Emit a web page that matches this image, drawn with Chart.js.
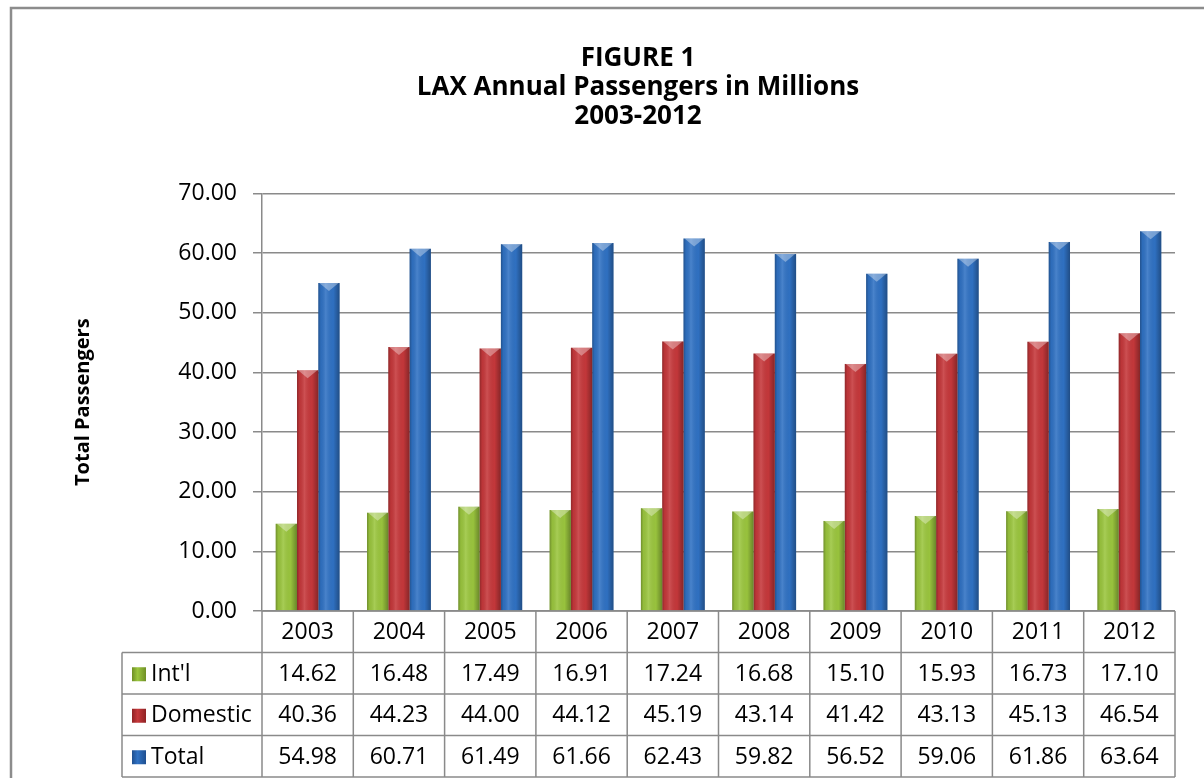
<!DOCTYPE html>
<html>
<head>
<meta charset="utf-8">
<title>LAX Annual Passengers</title>
<script src="https://cdn.jsdelivr.net/npm/chart.js@4.4.1/dist/chart.umd.min.js"></script>
<style>
  html, body { margin: 0; padding: 0; background: #fff; }
  #wrap { width: 1204px; height: 778px; position: relative; }
</style>
</head>
<body>
<div id="wrap"><canvas id="barChart"></canvas></div>
<script>
"use strict";

// Värden (miljoner passagerare)
const years = ["2003", "2004", "2005", "2006", "2007", "2008", "2009", "2010", "2011", "2012"];
const intl = [14.62, 16.48, 17.49, 16.91, 17.24, 16.68, 15.10, 15.93, 16.73, 17.10];
const domestic = [40.36, 44.23, 44.00, 44.12, 45.19, 43.14, 41.42, 43.13, 45.13, 46.54];
const total = [54.98, 60.71, 61.49, 61.66, 62.43, 59.82, 56.52, 59.06, 61.86, 63.64];
const seriesNames = ["Int'l", "Domestic", "Total"];
const yMax = 70;
const yStep = 10;

const FONT = "'Open Sans', 'Liberation Sans', sans-serif";
const GRID = "#8a8a8a";
const colors = ["#9bc63e", "#c6383b", "#3072c4"];
const edgeColors = ["#6f8f25", "#8f2224", "#1f4f8f"];

Chart.defaults.color = "#000";
Chart.defaults.font.family = FONT;

/**
 * Ritar den yttre ramen runt diagrammet.
 */
const framePlugin = {
  id: "frame",
  beforeDraw(chart) {
    const ctx = chart.ctx;
    ctx.save();
    ctx.strokeStyle = "#8c8c8c";
    ctx.lineWidth = 2.5;
    ctx.strokeRect(11, 8, chart.width + 40, chart.height + 40);
    ctx.restore();
  }
};

/**
 * Ger staplarna ett cylinderliknande utseende.
 */
const shadePlugin = {
  id: "shade",
  afterDatasetsDraw(chart) {
    const ctx = chart.ctx;
    ctx.save();
    chart.data.datasets.forEach((ds, di) => {
      chart.getDatasetMeta(di).data.forEach(bar => {
        const { x, y, base, width } = bar.getProps(["x", "y", "base", "width"], true);
        const l = x - width / 2;
        const g = ctx.createLinearGradient(l, 0, l + width, 0);
        g.addColorStop(0, "rgba(0,0,0,0.28)");
        g.addColorStop(0.12, "rgba(0,0,0,0.05)");
        g.addColorStop(0.35, "rgba(255,255,255,0.12)");
        g.addColorStop(0.7, "rgba(0,0,0,0.02)");
        g.addColorStop(1, "rgba(0,0,0,0.32)");
        ctx.fillStyle = g;
        ctx.fillRect(l, y, width, base - y);
        // ljus topp
        ctx.fillStyle = "rgba(255,255,255,0.35)";
        ctx.beginPath();
        ctx.moveTo(l + 1, y);
        ctx.lineTo(l + width - 1, y);
        ctx.lineTo(x, y + 8);
        ctx.closePath();
        ctx.fill();
      });
    });
    ctx.restore();
  }
};

/**
 * Ritar datatabellen under x-axeln, kolumnerna följer x-skalan.
 */
const tablePlugin = {
  id: "dataTable",
  afterDraw(chart) {
    const ctx = chart.ctx;
    const xs = chart.scales.x;
    const area = chart.chartArea;
    const rowH = 41.5;
    const keyLeft = 122;
    const step = xs.getPixelForValue(1) - xs.getPixelForValue(0);
    const top = area.bottom;
    const rows = [intl, domestic, total];

    ctx.save();
    ctx.strokeStyle = GRID;
    ctx.lineWidth = 1.5;
    ctx.font = "23px " + FONT;
    ctx.fillStyle = "#000";
    ctx.textBaseline = "middle";

    // horisontella linjer
    ctx.beginPath();
    ctx.moveTo(area.left, top);
    ctx.lineTo(area.right, top);
    for (let r = 1; r <= rows.length + 1; r++) {
      ctx.moveTo(keyLeft, top + r * rowH);
      ctx.lineTo(area.right, top + r * rowH);
    }
    // vertikala linjer
    for (let i = 0; i <= years.length; i++) {
      const bx = xs.getPixelForValue(0) - step / 2 + i * step;
      ctx.moveTo(bx, top);
      ctx.lineTo(bx, top + (rows.length + 1) * rowH);
    }
    ctx.moveTo(keyLeft, top + rowH);
    ctx.lineTo(keyLeft, top + (rows.length + 1) * rowH);
    ctx.stroke();

    // årtal
    ctx.textAlign = "center";
    years.forEach((yr, i) => {
      ctx.fillText(yr, xs.getPixelForValue(i), top + rowH / 2 + 1);
    });

    // serierader
    rows.forEach((vals, r) => {
      const cy = top + (r + 1) * rowH + rowH / 2 + 1;
      const sx = keyLeft + 10;
      const sg = ctx.createLinearGradient(sx, 0, sx + 14, 0);
      sg.addColorStop(0, edgeColors[r]);
      sg.addColorStop(0.4, colors[r]);
      sg.addColorStop(1, edgeColors[r]);
      ctx.fillStyle = sg;
      ctx.fillRect(sx, cy - 7, 14, 14);
      ctx.fillStyle = "#000";
      ctx.textAlign = "left";
      ctx.fillText(seriesNames[r], sx + 19, cy);
      ctx.textAlign = "center";
      vals.forEach((v, i) => {
        ctx.fillText(v.toFixed(2), xs.getPixelForValue(i), cy);
      });
    });
    ctx.restore();
  }
};

function createChart() {
  const ctx = document.getElementById("barChart");

  new Chart(ctx, {
    type: "bar",
    data: {
      labels: years,
      datasets: [intl, domestic, total].map((vals, i) => ({
        label: seriesNames[i],
        data: vals,
        backgroundColor: colors[i],
        borderWidth: 0
      }))
    },
    options: {
      responsive: true,
      maintainAspectRatio: false,
      animation: false,
      layout: {
        padding: { left: 101, right: 29, top: 0, bottom: 167 }
      },
      datasets: {
        bar: { categoryPercentage: 0.7, barPercentage: 1.0 }
      },
      plugins: {
        legend: { display: false },
        tooltip: { enabled: false },
        title: {
          display: true,
          text: ["FIGURE 1", "LAX Annual Passengers in Millions", "2003-2012"],
          color: "#000",
          font: { size: 26, weight: "bold", lineHeight: 1.12 },
          padding: { top: 44, bottom: 62 }
        }
      },
      scales: {
        x: {
          display: false
        },
        y: {
          min: 0,
          max: yMax,
          ticks: {
            stepSize: yStep,
            padding: 16,
            font: { size: 23 },
            color: "#000",
            callback: v => Number(v).toFixed(2)
          },
          grid: { color: GRID, lineWidth: 1.5, tickLength: 9 },
          border: { color: GRID, width: 1.5 },
          title: {
            display: true,
            text: "Total Passengers",
            color: "#000",
            font: { size: 20, weight: "bold", lineHeight: 1.2 },
            padding: { top: -30, bottom: 0 }
          },
          afterFit(scale) {
            scale.width = 161;
          }
        }
      }
    },
    plugins: [framePlugin, shadePlugin, tablePlugin]
  });
}

createChart();
</script>
</body>
</html>
